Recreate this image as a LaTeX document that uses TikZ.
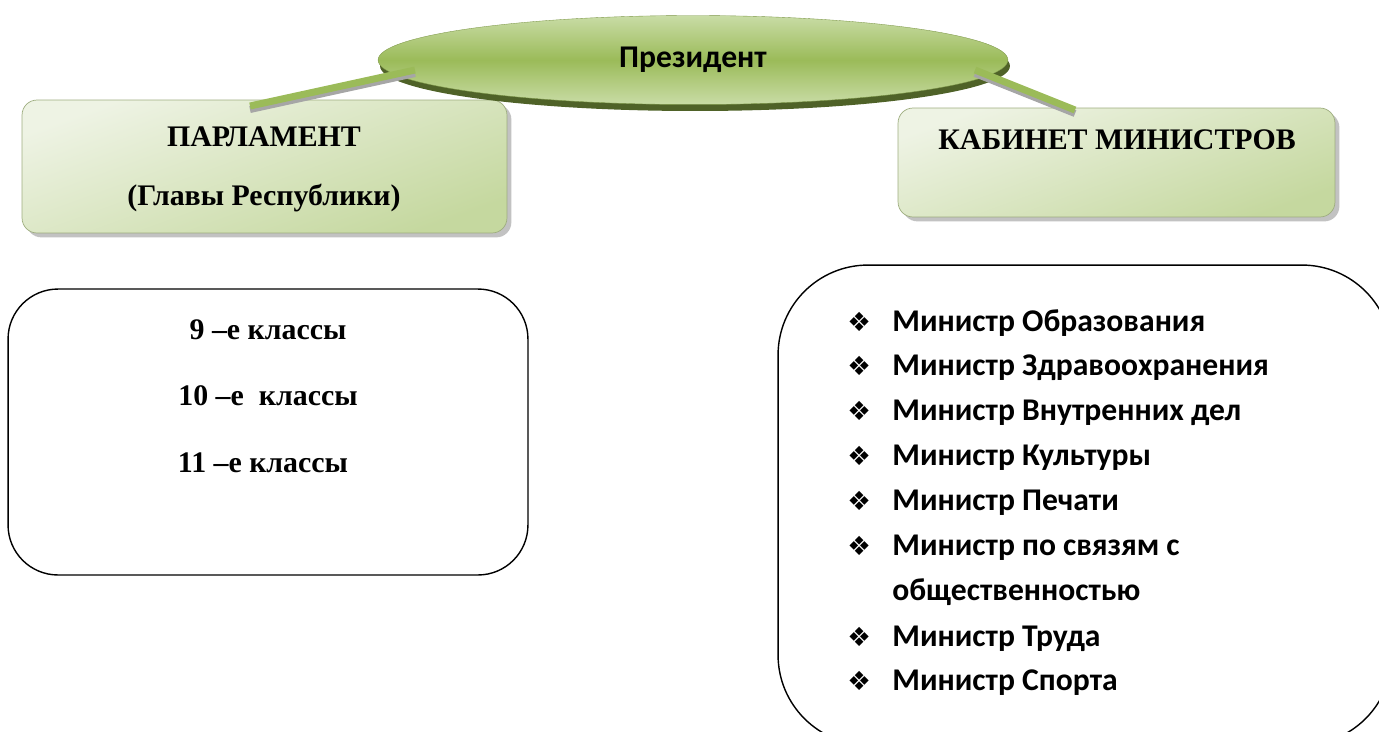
\documentclass[tikz,border=0pt]{standalone}
\usepackage{fontspec}
\setmainfont{Liberation Serif}
\newfontfamily\calib{Carlito}
\newfontfamily\symfont{DejaVu Sans}
\usetikzlibrary{positioning, shapes.geometric, shadows, calc}

\definecolor{gPale}{HTML}{EEF3E4}
\definecolor{gSoft}{HTML}{C5D89F}
\definecolor{gMid}{HTML}{9BBB59}
\definecolor{gLight}{HTML}{C9DCA6}
\definecolor{gDark}{HTML}{4F6228}

\tikzset{
  headbox/.style={draw=gSoft!80!black, thin, rounded corners=0.3cm, inner sep=0pt,
    top color=gSoft, bottom color=gPale, shading angle=200,
    drop shadow={shadow xshift=2.5pt, shadow yshift=-2.5pt, fill=black!40, opacity=0.6}},
  listbox/.style={draw, thick, inner sep=0pt},
  bar/.style={draw=gMid, line width=0.14cm},
  barshade/.style={draw=black!35, line width=0.14cm},
  sertext/.style={font=\fontsize{17}{20}\selectfont\bfseries, inner sep=0pt},
  item/.style={font=\calib\fontsize{18}{22}\selectfont\bfseries, anchor=base west, inner sep=0pt},
  bull/.style={font=\symfont\fontsize{15}{18}\selectfont, anchor=base west, inner sep=0pt}
}

\begin{document}
\begin{tikzpicture}[x=0.02cm, y=-0.02cm]
    \useasboundingbox (0,0) rectangle (1379,731);
    % head boxes
    \node[headbox, minimum width=9.7cm, minimum height=2.66cm] (parl) at (264.5,166.5) {};
    \node[headbox, minimum width=8.74cm, minimum height=2.18cm] (kab) at (1116.5,162.5) {};
    \node[sertext] at (264,137) {ПАРЛАМЕНТ};
    \node[sertext] at (264,198) {(Главы Республики)};
    \node[sertext] at (1117,140) {КАБИНЕТ МИНИСТРОВ};
    % president
    \node[ellipse, fill=gDark, minimum width=12.6cm, minimum height=1.8cm, inner sep=0pt] at (695,66) {};
    \node[ellipse, draw=gMid!80!black, very thin, top color=gLight, bottom color=gLight, middle color=gMid,
          minimum width=12.6cm, minimum height=1.78cm, inner sep=0pt] (pres) at (693,60) {};
    \node[font=\calib\fontsize{18}{22}\selectfont\bfseries] at (pres.center) {Президент};
    % bars
    \coordinate (pl) at (415,70);
    \coordinate (pr) at (975,70);
    \coordinate (parltop) at (250,106);
    \coordinate (kabtop) at (1075,110);
    \draw[barshade] ([yshift=-2pt]pl) -- ([yshift=-2pt]parltop);
    \draw[bar] (pl) -- (parltop);
    \draw[barshade] ([yshift=-2pt]pr) -- ([yshift=-2pt]kabtop);
    \draw[bar] (pr) -- (kabtop);
    % classes
    \node[listbox, rounded corners=1cm, minimum width=10.4cm, minimum height=5.72cm] (cls) at (268,432) {};
    \node[sertext, anchor=base] (c9) at (268,339) {9 –е классы};
    \node[sertext, anchor=base] (c10) at (268,405) {10 –е \ классы};
    \node[sertext, anchor=base] (c11) at (263,472) {11 –е классы};
    % ministers
    \node[listbox, rounded corners=1.8cm, minimum width=12.28cm, minimum height=9.6cm] (min) at (1085,505) {};
    \foreach \y/\txt [count=\i] in {331/Министр Образования, 375/Министр Здравоохранения,
        420/Министр Внутренних дел, 465/Министр Культуры, 510/Министр Печати,
        555/Министр по связям с, 646/Министр Труда, 690/Министр Спорта}{
      \node[bull] (b\i) at (847,\y) {❖};
      \node[item] (m\i) at (892,\y) {\txt};
    }
    \node[item] (m6b) at (892,600) {общественностью};
\end{tikzpicture}
\end{document}
